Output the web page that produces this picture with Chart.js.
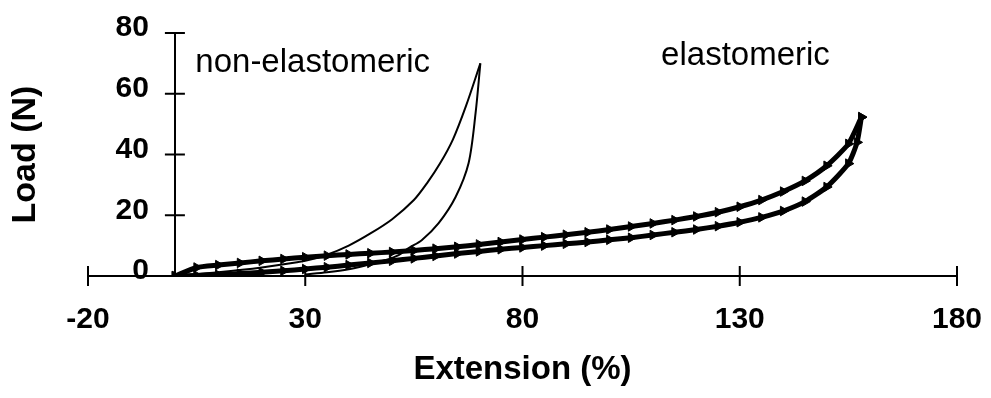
<!DOCTYPE html>
<html>
<head>
<meta charset="utf-8">
<script src="https://cdn.jsdelivr.net/npm/chart.js@4/dist/chart.umd.min.js"></script>
<style>
  html, body { margin: 0; padding: 0; background: #fff; }
  #wrap { width: 991px; height: 398px; }
</style>
</head>
<body>
<div id="wrap"><canvas id="myChart" width="991" height="398"></canvas></div>
<script>
// axis ticks
const xTickValues = [-20, 30, 80, 130, 180];
const yTickValues = [0, 20, 40, 60, 80];

// elastomeric sample - loading (upper) and unloading (lower)
const elastLoadX = [0, 5, 10, 15, 20, 25, 30, 35, 40, 45, 50, 55, 60, 65, 70, 75, 80, 85, 90, 95, 100, 105, 110, 115, 120, 125, 130, 135, 140, 145, 150, 155, 158];
const elastLoadY = [0, 2.8, 3.6, 4.3, 5.0, 5.6, 6.2, 6.7, 7.1, 7.5, 7.9, 8.4, 9.0, 9.6, 10.4, 11.2, 12.0, 12.8, 13.6, 14.4, 15.3, 16.3, 17.3, 18.4, 19.6, 21.0, 22.8, 25.0, 27.8, 31.3, 36.3, 43.5, 52.3];
const elastUnloadX = [158, 157, 155, 150, 145, 140, 135, 130, 125, 120, 115, 110, 105, 100, 95, 90, 85, 80, 75, 70, 65, 60, 55, 50, 45, 40, 35, 30, 25, 20, 15, 10, 5, 0];
const elastUnloadY = [52.3, 44, 37.0, 29.3, 24.5, 21.4, 19.3, 17.7, 16.4, 15.3, 14.4, 13.5, 12.6, 11.9, 11.2, 10.6, 10.0, 9.4, 8.8, 8.1, 7.4, 6.6, 5.8, 5.0, 4.3, 3.6, 2.9, 2.3, 1.7, 1.2, 0.8, 0.4, 0.2, 0];

// non-elastomeric sample
const plastLoadX = [0, 10, 20, 30, 35, 40, 45, 50, 55, 58, 61, 64, 67, 70.3];
const plastLoadY = [0, 1.2, 2.8, 5, 7, 10, 14, 18.7, 25, 30.5, 37, 45, 56, 70];
const plastUnloadX = [70.3, 69.2, 67.6, 64.6, 60.7, 56.8, 53.8, 51.5, 48, 44, 40, 35, 30];
const plastUnloadY = [70, 53.6, 37.2, 26, 17.4, 11.8, 9.2, 6.9, 5, 3.5, 2.2, 1.2, 0.5];

const toPoints = (xs, ys) => xs.map((x, i) => ({ x: x, y: ys[i] }));

const FONT = '"Liberation Sans", Arial, sans-serif';

const elastStyle = {
  showLine: true,
  borderColor: '#000',
  backgroundColor: '#000',
  borderWidth: 5,
  pointStyle: 'triangle',
  rotation: 90,
  pointRadius: 5.5,
  pointBorderWidth: 1,
  pointBorderColor: '#000',
  tension: 0.2
};
const plastStyle = {
  showLine: true,
  borderColor: '#000',
  borderWidth: 2,
  pointRadius: 0,
  tension: 0.3
};

// crossing tick marks, y tick labels, annotations, y title
const axisExtras = {
  id: 'axisExtras',
  afterDraw(chart) {
    const { ctx, scales: { x, y } } = chart;
    const x0 = x.getPixelForValue(0);
    const y0 = y.getPixelForValue(0);
    ctx.save();
    ctx.strokeStyle = '#000';
    ctx.lineWidth = 2;
    ctx.beginPath();
    xTickValues.forEach(v => {
      const px = x.getPixelForValue(v);
      ctx.moveTo(px, y0 - 10);
      ctx.lineTo(px, y0 + 10);
    });
    yTickValues.forEach(v => {
      const py = y.getPixelForValue(v);
      ctx.moveTo(x0 - 10, py);
      ctx.lineTo(x0 + 10, py);
    });
    ctx.stroke();

    ctx.fillStyle = '#000';
    ctx.font = 'bold 30px ' + FONT;
    ctx.textAlign = 'right';
    ctx.textBaseline = 'middle';
    yTickValues.forEach(v => {
      ctx.fillText(String(v), x0 - 26, y.getPixelForValue(v) - 5);
    });

    ctx.font = '33px ' + FONT;
    ctx.textAlign = 'left';
    ctx.textBaseline = 'alphabetic';
    ctx.fillText('non-elastomeric', x.getPixelForValue(4.7), y.getPixelForValue(67));
    ctx.fillText('elastomeric', x.getPixelForValue(111.9), y.getPixelForValue(69.4));

    ctx.translate(chart.chartArea.left - 62, y.getPixelForValue(40));
    ctx.rotate(-Math.PI / 2);
    ctx.textAlign = 'center';
    ctx.textBaseline = 'middle';
    ctx.font = 'bold 34px ' + FONT;
    ctx.fillText('Load (N)', 0, 0);
    ctx.restore();
  }
};

const config = {
  type: 'scatter',
  data: {
    datasets: [
      { data: toPoints(elastLoadX, elastLoadY), ...elastStyle },
      { data: toPoints(elastUnloadX, elastUnloadY), ...elastStyle },
      { data: toPoints(plastLoadX, plastLoadY), ...plastStyle },
      { data: toPoints(plastUnloadX, plastUnloadY), ...plastStyle }
    ]
  },
  options: {
    responsive: false,
    animation: false,
    layout: { padding: { left: 88, right: 34, top: 33, bottom: 0 } },
    plugins: { legend: { display: false }, tooltip: { enabled: false } },
    scales: {
      x: {
        type: 'linear',
        min: -20,
        max: 180,
        afterBuildTicks: s => { s.ticks = xTickValues.map(v => ({ value: v })); },
        afterFit: s => { s.height = 122; s.paddingLeft = 0; s.paddingRight = 0; },
        grid: { display: false, drawTicks: false },
        border: { display: true, color: '#000', width: 2 },
        ticks: { color: '#000', padding: 26, font: { family: FONT, size: 30, weight: 'bold' } },
        title: {
          display: true,
          text: 'Extension (%)',
          color: '#000',
          padding: { top: 0, bottom: 8 },
          font: { family: FONT, size: 33, weight: 'bold' }
        }
      },
      y: {
        type: 'linear',
        position: { x: 0 },
        min: 0,
        max: 80,
        afterBuildTicks: s => { s.ticks = yTickValues.map(v => ({ value: v })); },
        afterFit: s => { s.paddingTop = 0; s.paddingBottom = 0; },
        grid: { display: false, drawTicks: false },
        border: { display: true, color: '#000', width: 2 },
        ticks: { display: false }
      }
    }
  },
  plugins: [axisExtras]
};

const myChart = new Chart(document.getElementById('myChart'), config);
</script>
</body>
</html>
